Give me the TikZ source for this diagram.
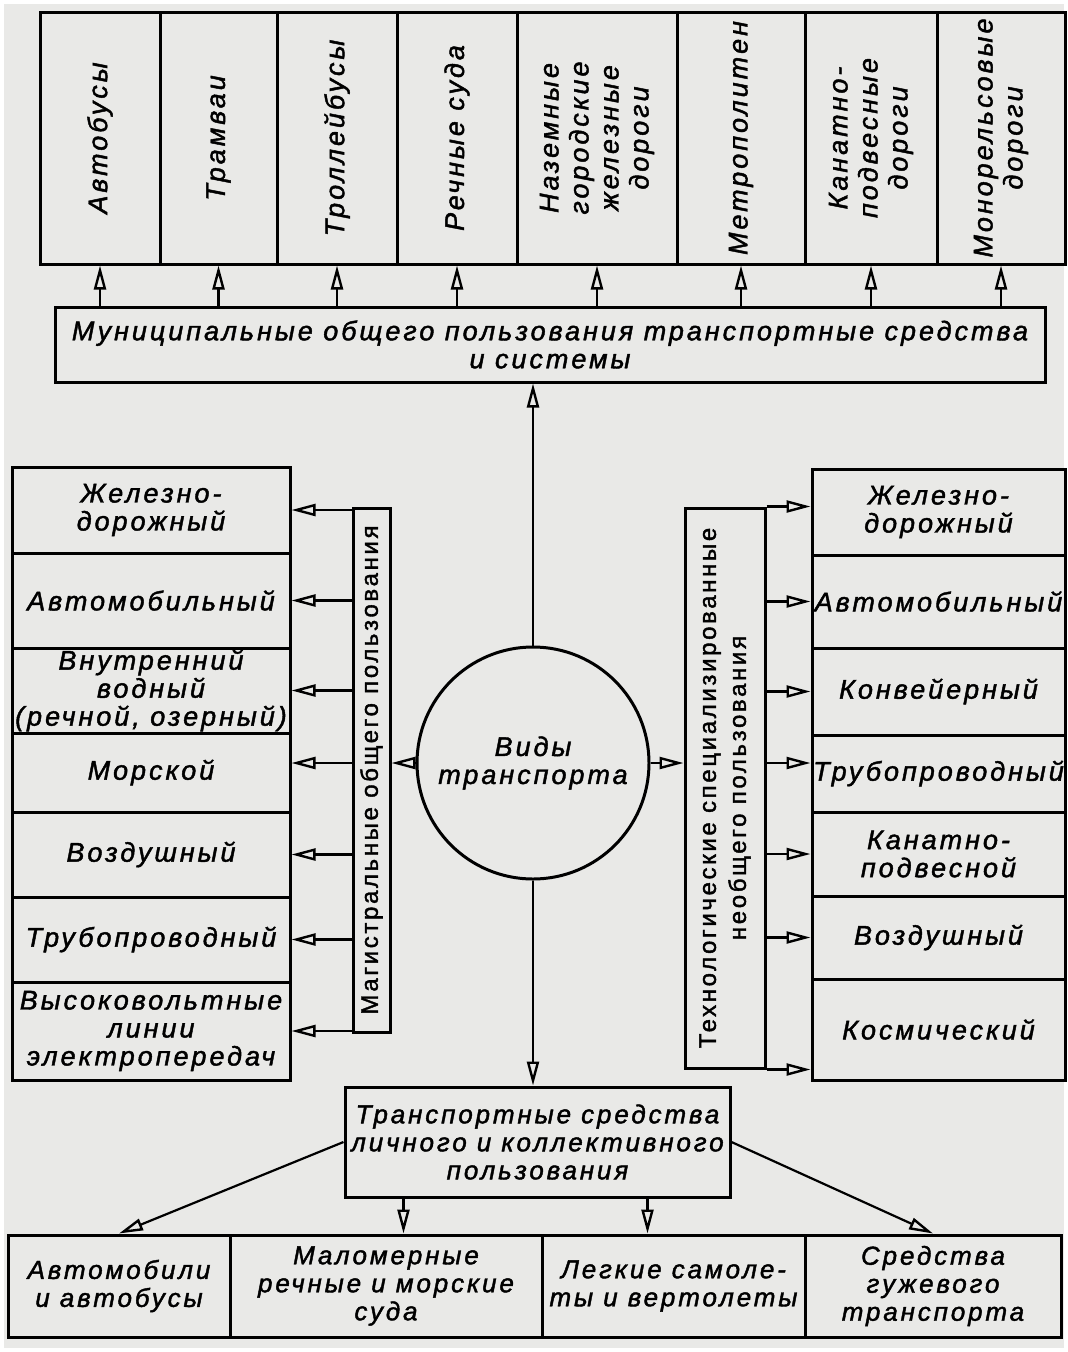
\documentclass[tikz,border=0pt]{standalone}
\usepackage{fontspec}
\setmainfont{Liberation Sans}
\newfontfamily\spaced[LetterSpace=11, FakeBold=1.6]{Liberation Sans}
\usetikzlibrary{arrows.meta,fit}
\definecolor{paper}{RGB}{233,233,231}

\tikzset{
	cell/.style={draw, line width=3pt, inner sep=0pt},
	arr/.style={line width=2.2pt, -{Triangle[open, length=24pt, width=12pt, line width=2.4pt]}},
	vtext/.style={rotate=90, align=center, font=\spaced\itshape\fontsize{27}{30}\selectfont},
	htext/.style={align=center, font=\spaced\itshape\fontsize{27}{28}\selectfont},
	btext/.style={rotate=90, align=center, font=\spaced\fontsize{24}{30}\selectfont},
	ltext/.style={align=center, font=\spaced\itshape\fontsize{26}{28}\selectfont}
}

\begin{document}
\begin{tikzpicture}[x=1pt, y=-1pt]
			%%%%% START %%%%%
			
			\fill[paper] (4, 4) rectangle (1064, 1348);
			\useasboundingbox (0, 0) rectangle (1068, 1352);
			
			% municipal transport
			\node[cell, fit={(40, 12) (160, 264)}] (bus) {};
			\node[vtext] (bus-t) at (bus) {Автобусы};
			\node[cell, fit={(160, 12) (277, 264)}] (tram) {};
			\node[vtext] (tram-t) at (tram) {Трамваи};
			\node[cell, fit={(277, 12) (397, 264)}] (troll) {};
			\node[vtext] (troll-t) at (troll) {Троллейбусы};
			\node[cell, fit={(397, 12) (517, 264)}] (river) {};
			\node[vtext] (river-t) at (river) {Речные суда};
			\node[cell, fit={(517, 12) (677, 264)}] (urail) {};
			\node[vtext] (urail-t) at (urail) {Наземные\\городские\\железные\\дороги};
			\node[cell, fit={(677, 12) (805, 264)}] (metro) {};
			\node[vtext] (metro-t) at (metro) {Метрополитен};
			\node[cell, fit={(805, 12) (937, 264)}] (cable) {};
			\node[vtext] (cable-t) at (cable) {Канатно-\\подвесные\\дороги};
			\node[cell, fit={(937, 12) (1065, 264)}] (mono) {};
			\node[vtext] (mono-t) at (mono) {Монорельсовые\\дороги};
			
			\node[cell, fit={(55, 307) (1045, 382)}] (muni) {};
			\node[htext] (muni-t) at (muni) {Муниципальные общего пользования транспортные средства\\и системы};
			
			\draw[arr] (bus.south |- muni.north) -- (bus.south);
			\draw[arr] (tram.south |- muni.north) -- (tram.south);
			\draw[arr] (troll.south |- muni.north) -- (troll.south);
			\draw[arr] (river.south |- muni.north) -- (river.south);
			\draw[arr] (urail.south |- muni.north) -- (urail.south);
			\draw[arr] (metro.south |- muni.north) -- (metro.south);
			\draw[arr] (cable.south |- muni.north) -- (cable.south);
			\draw[arr] (mono.south |- muni.north) -- (mono.south);
			
			% centre
			\node[draw, circle, line width=3pt, minimum size=232pt, htext] (kinds) at (533, 763) {Виды\\транспорта};
			
			% main lines
			\node[cell, fit={(12, 467) (290, 553)}] (lrail) {};
			\node[htext] (lrail-t) at (lrail) {Железно-\\дорожный};
			\node[cell, fit={(12, 553) (290, 648)}] (lcar) {};
			\node[htext] (lcar-t) at (lcar) {Автомобильный};
			\node[cell, fit={(12, 648) (290, 733)}] (lwater) {};
			\node[htext] (lwater-t) at (lwater) {Внутренний\\водный\\(речной, озерный)};
			\node[cell, fit={(12, 733) (290, 812)}] (lsea) {};
			\node[htext] (lsea-t) at (lsea) {Морской};
			\node[cell, fit={(12, 812) (290, 897)}] (lair) {};
			\node[htext] (lair-t) at (lair) {Воздушный};
			\node[cell, fit={(12, 897) (290, 982)}] (lpipe) {};
			\node[htext] (lpipe-t) at (lpipe) {Трубопроводный};
			\node[cell, fit={(12, 982) (290, 1080)}] (lpower) {};
			\node[htext] (lpower-t) at (lpower) {Высоковольтные\\линии\\электропередач};
			
			\node[cell, fit={(353, 508) (390, 1032)}] (main) {};
			\node[btext] (main-t) at (main) {Магистральные общего пользования};
			
			\draw[arr] (main.west |- lrail.east) -- (lrail.east);
			\draw[arr] (main.west |- lcar.east) -- (lcar.east);
			\draw[arr] (main.west |- lwater.east) -- (lwater.east);
			\draw[arr] (main.west |- kinds.west) -- (lsea.east |- kinds.west);
			\draw[arr] (main.west |- lair.east) -- (lair.east);
			\draw[arr] (main.west |- lpipe.east) -- (lpipe.east);
			\draw[arr] (main.west |- lpower.east) -- (lpower.east);
			
			% technological
			\node[cell, fit={(812, 469) (1065, 555)}] (rrail) {};
			\node[htext] (rrail-t) at (rrail) {Железно-\\дорожный};
			\node[cell, fit={(812, 555) (1065, 648)}] (rcar) {};
			\node[htext] (rcar-t) at (rcar) {Автомобильный};
			\node[cell, fit={(812, 648) (1065, 735)}] (rbelt) {};
			\node[htext] (rbelt-t) at (rbelt) {Конвейерный};
			\node[cell, fit={(812, 735) (1065, 812)}] (rpipe) {};
			\node[htext] (rpipe-t) at (rpipe) {Трубопроводный};
			\node[cell, fit={(812, 812) (1065, 896)}] (rcable) {};
			\node[htext] (rcable-t) at (rcable) {Канатно-\\подвесной};
			\node[cell, fit={(812, 896) (1065, 979)}] (rair) {};
			\node[htext] (rair-t) at (rair) {Воздушный};
			\node[cell, fit={(812, 979) (1065, 1080)}] (rspace) {};
			\node[htext] (rspace-t) at (rspace) {Космический};
			
			\node[cell, fit={(685, 508) (765, 1068)}] (tech) {};
			\node[btext] (tech-t) at (tech) {Технологические специализированные\\необщего пользования};
			
			\draw[arr] (tech.north east) -- (tech.north east -| rrail.west);
			\draw[arr] (tech.east |- rcar.west) -- (rcar.west);
			\draw[arr] (tech.east |- rbelt.west) -- (rbelt.west);
			\draw[arr] (tech.east |- kinds.east) -- (rpipe.west |- kinds.east);
			\draw[arr] (tech.east |- rcable.west) -- (rcable.west);
			\draw[arr] (tech.east |- rair.west) -- (rair.west);
			\draw[arr] (tech.south east) -- (tech.south east -| rspace.west);
			
			% personal
			\node[cell, fit={(345, 1087) (730, 1197)}] (personal) {};
			\node[ltext] (personal-t) at (personal) {Транспортные средства\\личного и коллективного\\пользования};
			
			\node[cell, fit={(8, 1235) (230, 1337)}] (cars) {};
			\node[ltext] (cars-t) at (cars) {Автомобили\\и автобусы};
			\node[cell, fit={(230, 1235) (542, 1337)}] (boats) {};
			\node[ltext] (boats-t) at (boats) {Маломерные\\речные и морские\\суда};
			\node[cell, fit={(542, 1235) (805, 1337)}] (planes) {};
			\node[ltext] (planes-t) at (planes) {Легкие самоле-\\ты и вертолеты};
			\node[cell, fit={(805, 1235) (1061, 1337)}] (horse) {};
			\node[ltext] (horse-t) at (horse) {Средства\\гужевого\\транспорта};
			
			\coordinate (p1) at ([xshift=60pt]personal.south west);
			\coordinate (p2) at ([xshift=-84pt]personal.south east);
			\draw[arr] (personal.west) -- (cars.north);
			\draw[arr] (p1) -- (p1 |- boats.north);
			\draw[arr] (p2) -- (p2 |- planes.north);
			\draw[arr] (personal.east) -- (horse.north);
			
			% links from the centre
			\draw[arr] (kinds.north) -- (kinds.north |- muni.south);
			\draw[arr] (kinds.south) -- (kinds.south |- personal.north);
			\draw[arr] (kinds.west) -- (kinds.west -| main.east);
			\draw[arr] (kinds.east) -- (kinds.east -| tech.west);
			
			%%%%% END %%%%%
\end{tikzpicture}
\end{document}
